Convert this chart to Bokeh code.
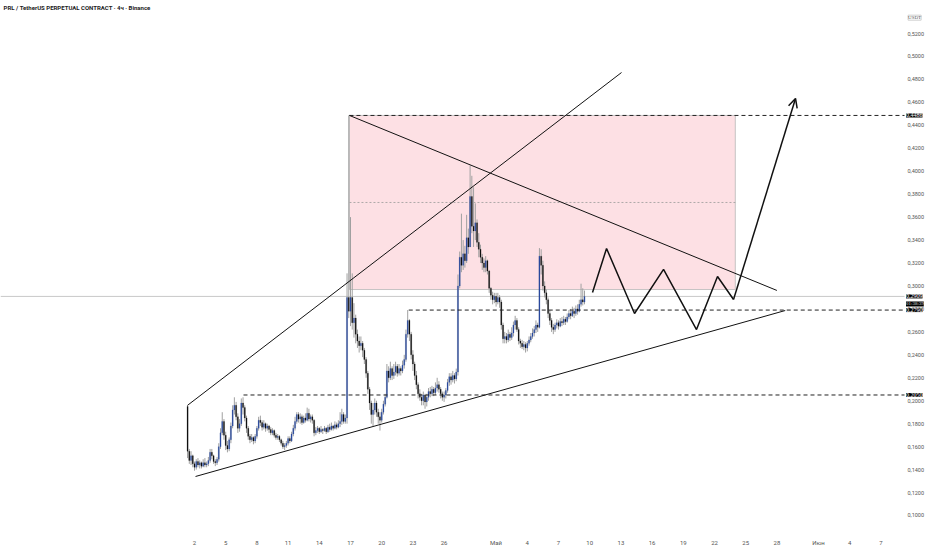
from bokeh.plotting import figure
from bokeh.models import (ColumnDataSource, FixedTicker, Label, LabelSet,
                          Arrow, OpenHead, Range1d)
from bokeh.core.properties import value
from bokeh.embed import file_html
from bokeh.resources import INLINE

# ---------------- data ----------------
first_open = 0.195
closes = [
    .156, .148, .152, .145, .142, .147, .144, .146, .143, .146,
    .144, .145, .148, .155, .152, .147, .146, .149, .160, .172,
    .182, .170, .161, .158, .166, .178, .192, .196, .186, .176,
    .180, .198, .194, .185, .176, .169, .166, .168, .165, .169,
    .176, .183, .181, .177, .180, .176, .178, .175, .172, .174,
    .170, .168, .169, .166, .163, .160, .161, .163, .167, .165,
    .171, .176, .182, .188, .184, .186, .181, .185, .183, .189,
    .184, .186, .183, .172, .174, .176, .173, .175, .174, .176,
    .173, .177, .175, .178, .176, .179, .177, .180, .182, .188,
    .182, .185, .290, .278, .290, .268, .272, .258, .252, .248,
    .250, .244, .236, .224, .210, .198, .188, .192, .198, .190,
    .186, .183, .190, .197, .203, .226, .220, .228, .222, .225,
    .230, .224, .228, .226, .231, .236, .258, .270, .258, .240,
    .232, .222, .214, .206, .203, .200, .205, .199, .203, .208,
    .206, .210, .207, .211, .214, .210, .206, .203, .205, .209,
    .216, .221, .218, .222, .219, .225, .300, .325, .318, .328,
    .322, .342, .334, .378, .352, .348, .355, .338, .332, .325,
    .320, .316, .322, .313, .298, .292, .288, .291, .286, .290,
    .286, .266, .254, .256, .253, .258, .255, .259, .266, .270,
    .262, .252, .250, .247, .249, .246, .250, .253, .256, .259,
    .262, .266, .264, .326, .318, .300, .294, .288, .276, .270,
    .264, .262, .266, .268, .265, .269, .268, .271, .269, .273,
    .276, .274, .278, .276, .280, .278, .284, .288, .286, .2909,
]
highs = [
    .196, .158, .156, .153, .147, .149, .150, .148, .147, .149,
    .150, .147, .151, .158, .158, .153, .149, .151, .163, .176,
    .190, .184, .173, .165, .168, .181, .196, .203, .199, .189,
    .184, .202, .203, .196, .187, .178, .171, .171, .169, .171,
    .178, .186, .187, .183, .183, .181, .180, .179, .177, .176,
    .175, .172, .171, .170, .167, .165, .163, .165, .169, .169,
    .173, .179, .186, .190, .190, .189, .188, .187, .189, .194,
    .193, .188, .188, .184, .177, .178, .177, .178, .176, .178,
    .177, .179, .180, .181, .179, .182, .181, .183, .190, .193,
    .190, .188, .311, .4486, .360, .311, .285, .275, .262, .256,
    .256, .252, .246, .238, .226, .212, .200, .198, .202, .200,
    .193, .190, .193, .200, .206, .232, .230, .234, .230, .232,
    .234, .232, .232, .230, .235, .240, .262, .279, .271, .260,
    .244, .234, .226, .216, .210, .206, .208, .206, .206, .211,
    .212, .213, .212, .216, .220, .217, .212, .208, .208, .211,
    .219, .224, .224, .226, .224, .228, .310, .330, .363, .340,
    .335, .362, .350, .405, .396, .386, .372, .358, .346, .336,
    .328, .324, .326, .323, .314, .299, .295, .294, .294, .294,
    .292, .288, .268, .260, .259, .262, .260, .264, .269, .274,
    .272, .264, .254, .253, .252, .251, .252, .256, .259, .263,
    .265, .270, .268, .333, .332, .322, .304, .297, .290, .279,
    .272, .267, .268, .271, .270, .272, .273, .274, .273, .276,
    .279, .280, .282, .281, .283, .284, .288, .302, .298, .296,
]
lows = [
    .150, .145, .144, .142, .139, .140, .142, .141, .141, .142,
    .142, .142, .143, .146, .149, .145, .143, .144, .147, .158,
    .170, .166, .157, .155, .156, .163, .176, .188, .183, .172,
    .173, .178, .188, .182, .172, .166, .163, .164, .162, .163,
    .167, .174, .178, .174, .175, .173, .174, .172, .170, .170,
    .168, .166, .166, .164, .161, .158, .157, .159, .161, .163,
    .164, .169, .174, .180, .181, .180, .179, .180, .181, .182,
    .182, .181, .180, .169, .170, .172, .171, .172, .171, .173,
    .171, .172, .173, .174, .174, .175, .175, .176, .177, .179,
    .180, .180, .180, .272, .265, .262, .255, .250, .246, .242,
    .244, .238, .232, .220, .206, .192, .180, .178, .188, .186,
    .180, .174, .181, .188, .195, .202, .216, .218, .218, .219,
    .222, .221, .222, .222, .224, .228, .234, .255, .252, .236,
    .226, .218, .210, .202, .200, .196, .196, .193, .195, .200,
    .203, .204, .204, .205, .208, .207, .202, .200, .199, .202,
    .207, .213, .214, .216, .215, .217, .222, .298, .312, .314,
    .316, .320, .328, .334, .346, .334, .340, .334, .325, .320,
    .314, .312, .312, .310, .294, .288, .284, .285, .282, .284,
    .281, .262, .250, .250, .250, .251, .252, .253, .256, .262,
    .260, .249, .246, .245, .244, .242, .243, .248, .251, .254,
    .256, .259, .260, .263, .310, .296, .290, .284, .272, .266,
    .260, .258, .260, .263, .262, .264, .265, .266, .266, .268,
    .271, .271, .273, .272, .274, .275, .277, .282, .283, .284,
]
# candle start: 1 April 08:00, 4h candles; x in days since 1 April 00:00
first_candle_hour = 8
candle_hours = 4

# drawings (day, price)
wedge_upper_t = [0.33, 42.06]
wedge_upper_p = [0.196, 0.486]
support_t = [1.10, 57.8]
support_p = [0.134, 0.2786]
resist_t = [15.9, 57.0]
resist_p = [0.4486, 0.2961]
zone_t = [15.9, 53.0]
zone_p = [0.2969, 0.4486]
zigzag_t = [39.27, 40.62, 43.31, 46.10, 49.27, 51.29, 52.83]
zigzag_p = [0.2943, 0.3327, 0.2760, 0.3144, 0.2620, 0.3083, 0.2882]
arrow_tip_t = 58.79
arrow_tip_p = 0.4634
level_p = [0.4486, 0.2790, 0.2050]
level_t = [15.9, 21.6, 5.71]
last_price = 0.2909
countdown = "01:38:39"
currency = "USDT"

x_tick_vals = [1, 4, 7, 10, 13, 16, 19, 22, 25, 30, 33, 36, 39, 42, 45, 48, 51, 54, 57, 61, 64, 67]
x_tick_labels = ["2", "5", "8", "11", "14", "17", "20", "23", "26", "Май", "4", "7",
                 "10", "13", "16", "19", "22", "25", "28", "Июн", "4", "7"]
y_tick_vals = [0.10, 0.12, 0.14, 0.16, 0.18, 0.20, 0.22, 0.24, 0.26, 0.28, 0.30,
               0.32, 0.34, 0.36, 0.38, 0.40, 0.42, 0.44, 0.46, 0.48, 0.50, 0.52]

# ---------------- build ----------------
def fmt(v):
    return f"{v:.4f}".replace(".", ",")

n = len(closes)
opens = [first_open] + closes[:-1]
times = [(first_candle_hour + candle_hours * i) / 24.0 for i in range(n)]
up = [c >= o for o, c in zip(opens, closes)]
src = ColumnDataSource(dict(
    t=times, o=opens, h=highs, l=lows, c=closes,
    top=[max(o, c) for o, c in zip(opens, closes)],
    bot=[min(o, c) for o, c in zip(opens, closes)],
    col=["#2b4a9e" if u else "#111111" for u in up],
))

PX_PER_DAY = 10.4
X0 = -17.654                      # left edge of the chart
X_PANE = 68.596                   # right edge of the price pane
X1 = X_PANE + 33 / PX_PER_DAY     # incl. price-scale strip
X_LABEL = X_PANE + 10 / PX_PER_DAY
X_TAG = X_PANE + 8.5 / PX_PER_DAY
X_LINE_END = X_PANE + 7 / PX_PER_DAY
Y0, Y1 = 0.08692, 0.54876
FONT = "Roboto"

p = figure(frame_width=930, frame_height=530, x_range=Range1d(X0, X1), y_range=Range1d(Y0, Y1),
           y_axis_location=None, output_backend="svg", toolbar_location=None,
           min_border_left=0, min_border_top=0, min_border_right=0, min_border_bottom=12,
           background_fill_color="white", border_fill_color="white")
p.outline_line_color = None
p.xgrid.visible = False
p.ygrid.visible = False

# zone box
p.quad(left=[zone_t[0]], right=[zone_t[1]], bottom=[zone_p[0]], top=[zone_p[1]],
       fill_color="#fde0e4", fill_alpha=1.0, line_color="#b8b8b8", line_width=0.8)
mid = (zone_p[0] + zone_p[1]) / 2
p.line(zone_t, [mid, mid], line_color="#9a9a9a", line_dash="2 2", line_width=0.8)

# last price line
p.line([X0, X_LINE_END], [last_price, last_price], line_color="#c8c8c8", line_width=1)

# candles
p.segment(x0="t", y0="l", x1="t", y1="h", source=src, line_color="#a0a0a0", line_width=1)
p.vbar(x="t", width=0.11, top="top", bottom="bot", source=src,
       fill_color="col", line_color="col", line_width=0.2)

# levels
for lp, lt in zip(level_p, level_t):
    p.line([lt, X_LINE_END], [lp, lp], line_color="#222222", line_dash="4 3", line_width=1)

# trend lines
p.line(wedge_upper_t, wedge_upper_p, line_color="#111111", line_width=1)
p.line(support_t, support_p, line_color="#111111", line_width=1)
p.line(resist_t, resist_p, line_color="#111111", line_width=1)

# projected path
p.line(zigzag_t, zigzag_p, line_color="#111111", line_width=1.5)
p.add_layout(Arrow(end=OpenHead(size=9, line_width=1.5, line_color="#111111"),
                   x_start=zigzag_t[-1], y_start=zigzag_p[-1],
                   x_end=arrow_tip_t, y_end=arrow_tip_p,
                   line_color="#111111", line_width=1.5))

# time axis
p.xaxis.ticker = FixedTicker(ticks=x_tick_vals)
p.xaxis.major_label_overrides = {v: s for v, s in zip(x_tick_vals, x_tick_labels)}
p.xaxis.axis_line_color = None
p.xaxis.major_tick_line_color = None
p.xaxis.minor_tick_line_color = None
p.xaxis.major_tick_out = 0
p.xaxis.major_tick_in = 0
p.xaxis.minor_tick_out = 0
p.xaxis.minor_tick_in = 0
p.xaxis.major_label_text_font = FONT
p.xaxis.major_label_text_color = "#555555"
p.xaxis.major_label_text_font_size = "6px"
p.xaxis.major_label_standoff = 8

# price scale (right strip)
p.text(x=[X_LABEL] * len(y_tick_vals), y=y_tick_vals, text=[fmt(v) for v in y_tick_vals],
       text_font=value(FONT), text_font_size="5.5px", text_color="#555555",
       text_baseline="middle", text_align="left")

# title
p.add_layout(Label(x=X0 + 0.3, y=0.5427, text="PRL / TetherUS PERPETUAL CONTRACT · 4ч · Binance",
                   text_font=FONT, text_font_size="6px", text_color="#222222",
                   text_font_style="bold", text_baseline="middle", text_align="left"))

# price tags on the scale
tag_src = ColumnDataSource(dict(y=level_p + [last_price],
                                text=[fmt(v) for v in level_p + [last_price]]))
cd_src = ColumnDataSource(dict(y=[last_price - 0.0066], text=[countdown]))
cur_src = ColumnDataSource(dict(y=[0.5338], text=[currency]))
has_pad = "padding" in LabelSet().properties()
pad2 = {"padding": 2} if has_pad else {}
pad1 = {"padding": 1.5} if has_pad else {}
p.add_layout(LabelSet(x=X_TAG, y="y", text="text", source=tag_src, text_font=FONT,
                      text_font_size="6px", text_color="white", background_fill_color="#000000",
                      text_baseline="middle", text_align="left", **pad2))
p.add_layout(LabelSet(x=X_TAG, y="y", text="text", source=cd_src, text_font=FONT,
                      text_font_size="5px", text_color="#dddddd", background_fill_color="#000000",
                      text_baseline="middle", text_align="left", **pad1))
p.add_layout(LabelSet(x=X_TAG + 0.2, y="y", text="text", source=cur_src, text_font=FONT,
                      text_font_size="5px", text_color="#555555", background_fill_color="white",
                      border_line_color="#cfcfcf", text_baseline="middle", text_align="left", **pad2))

open("out.html", "w").write(file_html(p, INLINE))
